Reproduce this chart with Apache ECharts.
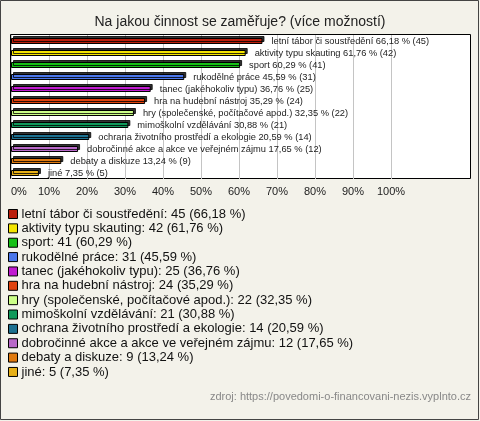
<!DOCTYPE html>
<html>
<head>
<meta charset="utf-8">
<script src="https://cdn.jsdelivr.net/npm/echarts@6/dist/echarts.min.js"></script>
<style>
  html, body { margin: 0; padding: 0; background: #f3f2ea; }
  #chart { width: 480px; height: 421px; }
</style>
</head>
<body>
<div id="chart"></div>
<script>
  const categories = [
    'letní tábor či soustředění',
    'aktivity typu skauting',
    'sport',
    'rukodělné práce',
    'tanec (jakéhokoliv typu)',
    'hra na hudební nástroj',
    'hry (společenské, počítačové apod.)',
    'mimoškolní vzdělávání',
    'ochrana životního prostředí a ekologie',
    'dobročinné akce a akce ve veřejném zájmu',
    'debaty a diskuze',
    'jiné'
  ]
  const counts = [45, 42, 41, 31, 25, 24, 22, 21, 14, 12, 9, 5]
  const percents = [66.18, 61.76, 60.29, 45.59, 36.76, 35.29, 32.35, 30.88, 20.59, 17.65, 13.24, 7.35]
  const colors = ['#bb1e0c', '#f4e400', '#16c016', '#4a76ea', '#c01ad0', '#e0420e',
    '#ccff88', '#10995a', '#1c7090', '#b868c8', '#e07a10', '#e6b018']

  const fontFamily = '"Liberation Sans", Arial, sans-serif'

  function pct(p) {
    return p.toFixed(2).replace('.', ',')
  }

  const seriesData = categories.map(function (name, i) {
    const data = categories.map(function (c, j) { return j === i ? percents[i] : '-' })
    return {
      name: name,
      type: 'bar',
      stack: 'all',
      barWidth: 6,
      data: data,
      itemStyle: {
        color: colors[i],
        borderColor: '#000',
        borderWidth: 1,
        shadowColor: 'rgba(0,0,0,0.8)',
        shadowBlur: 0,
        shadowOffsetX: 2,
        shadowOffsetY: -2
      },
      label: {
        show: true,
        position: 'right',
        distance: 9,
        fontFamily: fontFamily,
        fontSize: 9.3,
        color: '#222',
        formatter: function () {
          return name + ' ' + pct(percents[i]) + ' % (' + counts[i] + ')'
        }
      }
    }
  })

  const myChart = echarts.init(document.getElementById('chart'))
  myChart.setOption({
    animation: false,
    backgroundColor: '#f3f2ea',
    textStyle: { fontFamily: fontFamily },
    title: {
      text: 'Na jakou činnost se zaměřuje? (více možností)',
      left: 'center',
      top: 10,
      textStyle: { fontFamily: fontFamily, fontSize: 14, fontWeight: 'normal', color: '#222' }
    },
    graphic: {
      elements: [
        {
          type: 'rect', z: -10, silent: true,
          shape: { x: 0.5, y: 0.5, width: 478, height: 419 },
          style: { fill: 'none', stroke: '#444', lineWidth: 1 }
        },
        {
          type: 'rect', z: -10, silent: true,
          shape: { x: 10.5, y: 34.5, width: 460, height: 144 },
          style: { fill: '#fff', stroke: '#000', lineWidth: 1 }
        },
        {
          type: 'text', right: 9, top: 391,
          style: {
            text: 'zdroj: https://povedomi-o-financovani-nezis.vyplnto.cz',
            fontFamily: fontFamily, fontSize: 11, fill: '#888'
          }
        }
      ]
    },
    legend: {
      orient: 'vertical',
      left: 8,
      top: 207,
      padding: 0,
      itemGap: 0.36,
      itemWidth: 9,
      itemHeight: 9,
      icon: 'rect',
      selectedMode: false,
      itemStyle: {
        borderColor: '#000', borderWidth: 1,
        shadowBlur: 0, shadowOffsetX: 0, shadowOffsetY: 0, shadowColor: 'rgba(0,0,0,0)'
      },
      textStyle: { fontFamily: fontFamily, fontSize: 13, color: '#111', lineHeight: 14, padding: [0, 0, 0, -1] },
      data: categories,
      formatter: function (name) {
        const i = categories.indexOf(name)
        return name + ': ' + counts[i] + ' (' + pct(percents[i]) + ' %)'
      }
    },
    grid: {
      left: 11,
      right: 89,
      top: 35,
      height: 144
    },
    xAxis: {
      type: 'value',
      min: 0,
      max: 100,
      interval: 10,
      axisLine: { show: false },
      axisTick: { show: false },
      splitLine: { lineStyle: { color: '#c4c4c4', width: 1 } },
      axisLabel: {
        margin: 7,
        fontFamily: fontFamily,
        fontSize: 11,
        color: '#222',
        alignMinLabel: 'left',
        formatter: '{value}%'
      }
    },
    yAxis: {
      type: 'category',
      inverse: true,
      data: categories,
      axisLine: { show: false },
      axisTick: { show: false },
      axisLabel: { show: false }
    },
    series: seriesData
  })
</script>
</body>
</html>
